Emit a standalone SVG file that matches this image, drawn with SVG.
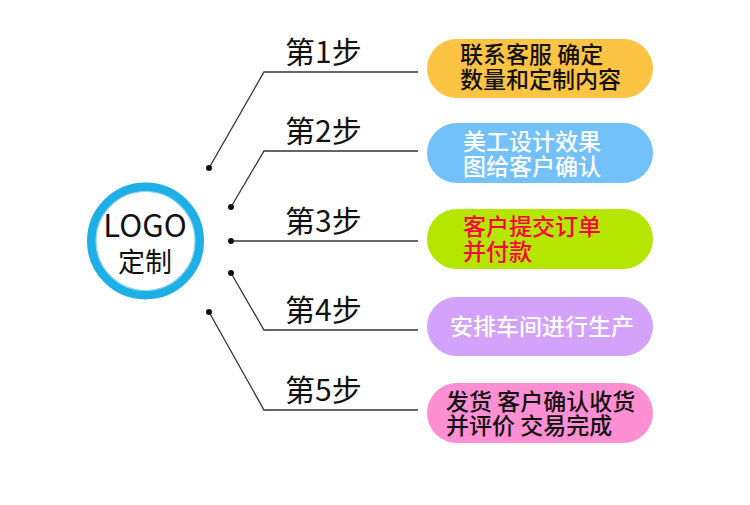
<svg xmlns="http://www.w3.org/2000/svg" width="750" height="505" viewBox="0 0 750 505">
<style>
.cjk{font-family:"Noto Sans CJK SC","Noto Sans",sans-serif}
.step{font-size:30px;fill:#111}
.pt{font-size:23px;font-weight:500}
.ln{fill:none;stroke:#333;stroke-width:1.3}
.dot{fill:#111}
</style>
<rect width="750" height="505" fill="#fff"/>
<g id="connectors">
<polyline class="ln" points="209,168 264,72 418,72"/>
<polyline class="ln" points="231,207 264,151 418,151"/>
<polyline class="ln" points="231,241 418,241"/>
<polyline class="ln" points="231,273 264,330 418,330"/>
<polyline class="ln" points="209,312 264,410 418,410"/>
<circle class="dot" cx="209" cy="168" r="3"/>
<circle class="dot" cx="231" cy="207" r="3"/>
<circle class="dot" cx="231" cy="241" r="3"/>
<circle class="dot" cx="231" cy="273" r="3"/>
<circle class="dot" cx="209" cy="312" r="3"/>
</g>
<g id="logo">
<circle cx="145.5" cy="241" r="54" fill="#fff" stroke="#1eafe6" stroke-width="9"/>
<circle cx="145.5" cy="241" r="49.5" fill="none" stroke="#8fd4f0" stroke-width="1.2"/>
<text class="cjk" text-anchor="middle" fill="#111"><tspan x="145" y="237" font-size="31">LOGO</tspan><tspan x="145" y="272" font-size="27">定制</tspan></text>
</g>
<g id="label1"><text x="285" y="63" class="cjk step">第1步</text></g>
<g id="label2"><text x="285" y="142" class="cjk step">第2步</text></g>
<g id="label3"><text x="285" y="232" class="cjk step">第3步</text></g>
<g id="label4"><text x="285" y="321" class="cjk step">第4步</text></g>
<g id="label5"><text x="285" y="401" class="cjk step">第5步</text></g>
<g id="step1">
<rect x="427" y="39" width="226" height="59" rx="29.5" fill="#fdc444"/>
<text class="cjk pt" fill="#111"><tspan x="460" y="63">联系客服 确定</tspan><tspan x="460" y="88">数量和定制内容</tspan></text>
</g>
<g id="step2">
<rect x="427" y="123" width="226" height="60" rx="30" fill="#73c1fb"/>
<text class="cjk pt" fill="#fff"><tspan x="463" y="150">美工设计效果</tspan><tspan x="463" y="175">图给客户确认</tspan></text>
</g>
<g id="step3">
<rect x="427" y="209" width="226" height="60" rx="30" fill="#b4e600"/>
<text class="cjk pt" fill="#ff0040"><tspan x="463" y="235">客户提交订单</tspan><tspan x="463" y="260">并付款</tspan></text>
</g>
<g id="step4">
<rect x="427" y="297" width="226" height="59" rx="29.5" fill="#d3a2fb"/>
<text x="450" y="335" class="cjk pt" fill="#fff">安排车间进行生产</text>
</g>
<g id="step5">
<rect x="427" y="383" width="226" height="60" rx="30" fill="#fe8fd2"/>
<text class="cjk pt" fill="#111"><tspan x="446" y="410">发货 客户确认收货</tspan><tspan x="446" y="434">并评价 交易完成</tspan></text>
</g>
</svg>
